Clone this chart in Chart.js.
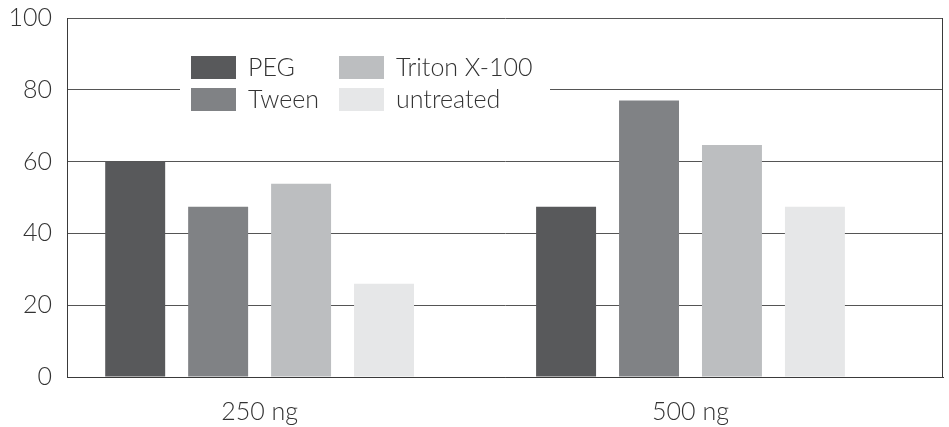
<!DOCTYPE html>
<html>
<head>
<meta charset="utf-8">
<script src="https://cdn.jsdelivr.net/npm/chart.js@4.4.1/dist/chart.umd.min.js"></script>
<style>
html,body{margin:0;padding:0;background:#fff}
#wrap{width:949px;height:427px}
</style>
</head>
<body>
<div id="wrap"><canvas id="c"></canvas></div>
<script>
// data
const categories=['250 ng','500 ng'];
const seriesNames=['PEG','Tween','Triton X-100','untreated'];
const peg=[60,47.4];
const tween=[47.4,77];
const triton=[53.8,64.6];
const untreated=[26,47.4];
const yTicks=[0,20,40,60,80,100];
const colors=['#58595b','#808285','#bcbec0','#e6e7e8'];

const textColor='#333';
const font={family:'Lato',weight:'300',size:25};

// legend sits in a white box inside the plot, 2 columns
const legendBox={
  id:'legendBox',
  afterDatasetsDraw(chart){
    const ctx=chart.ctx;
    const a=chart.chartArea;
    const x0=a.left+113, y0=a.top+30;
    ctx.save();
    ctx.fillStyle='#fff';
    ctx.fillRect(x0,y0,370,72);
    ctx.font='300 25px Lato';
    ctx.textBaseline='middle';
    ctx.textAlign='left';
    chart.data.datasets.forEach((ds,i)=>{
      const col=Math.floor(i/2), row=i%2;
      const sx=x0+11+col*148, sy=y0+8+row*32;
      ctx.fillStyle=ds.backgroundColor;
      ctx.fillRect(sx,sy,45,23);
      ctx.fillStyle=textColor;
      ctx.fillText(ds.label,sx+57,sy+12);
    });
    // right frame line
    ctx.strokeStyle='#3a3a3a';
    ctx.lineWidth=1;
    ctx.beginPath();
    ctx.moveTo(a.right-0.5,a.top);
    ctx.lineTo(a.right-0.5,a.bottom);
    ctx.stroke();
    ctx.restore();
  }
};

const series=[peg,tween,triton,untreated];

new Chart(document.getElementById('c'),{
  type:'bar',
  data:{
    labels:categories.map((c,i)=>i),
    datasets:series.map((vals,i)=>({
      label:seriesNames[i],
      data:vals,
      backgroundColor:colors[i],
      borderWidth:0,
      categoryPercentage:0.77,
      barPercentage:0.723
    }))
  },
  options:{
    responsive:true,
    maintainAspectRatio:false,
    animation:false,
    layout:{padding:{top:18,right:6,left:0,bottom:0}},
    plugins:{legend:{display:false},tooltip:{enabled:false}},
    scales:{
      x:{
        type:'linear',
        min:-0.447,
        max:1.586,
        offset:false,
        grid:{display:false,drawTicks:false},
        border:{display:true,color:'#3a3a3a',width:1},
        afterBuildTicks:(s)=>{s.ticks=categories.map((c,i)=>({value:i}));},
        afterFit:(s)=>{s.height=50;},
        ticks:{
          color:textColor,
          font:font,
          padding:20,
          maxRotation:0,
          autoSkip:false,
          callback:(v)=>categories[v]
        }
      },
      y:{
        min:0,
        max:100,
        grid:{color:'#555',lineWidth:1,drawTicks:false},
        border:{display:true,color:'#3a3a3a',width:1},
        afterBuildTicks:(s)=>{s.ticks=yTicks.map(v=>({value:v}));},
        afterFit:(s)=>{s.width=67;s.paddingTop=0;s.paddingBottom=0;},
        ticks:{color:textColor,font:font,padding:15}
      }
    }
  },
  plugins:[legendBox]
});
</script>
</body>
</html>
